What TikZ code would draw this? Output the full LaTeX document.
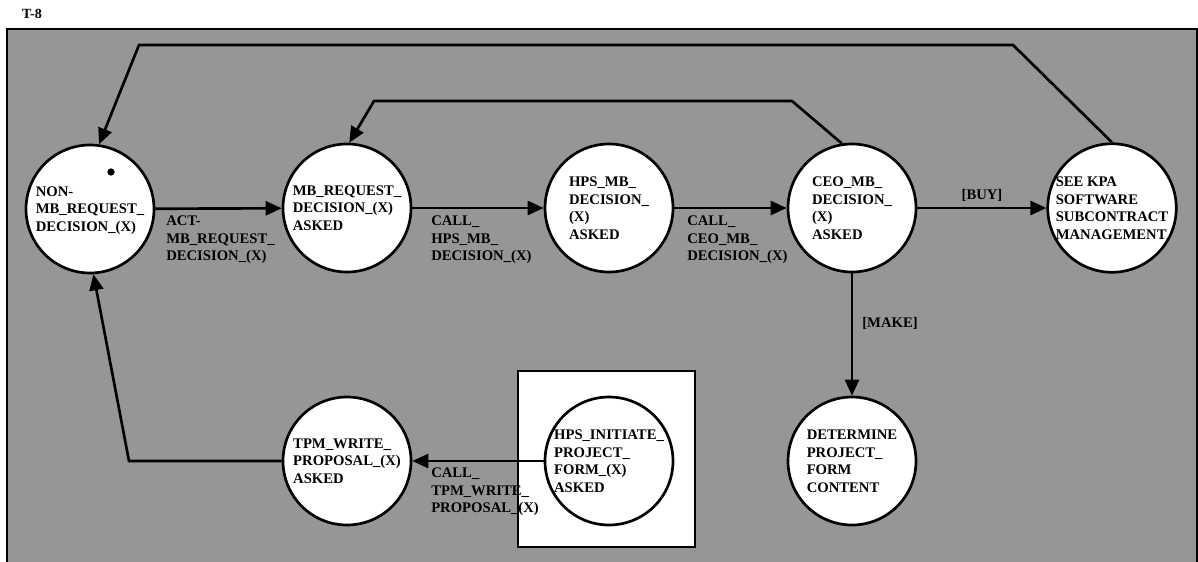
\documentclass[tikz,border=0pt]{standalone}
\usepackage{fontspec}
\setmainfont{Liberation Serif}
\usetikzlibrary{arrows.meta}
\definecolor{panelgray}{RGB}{150,150,150}
\tikzset{
  state/.style={circle, draw, fill=white, line width=2pt, minimum size=96pt, inner sep=0pt, align=left},
  sink/.style={text depth=#1},
  flow/.style={line width=2pt, -{Triangle[length=12pt,width=10.5pt]}},
  lbl/.style={align=left, inner sep=0pt},
  token/.style={circle, fill=black, minimum size=5.5pt, inner sep=0pt}
}
\begin{document}
\begin{tikzpicture}[x=0.75pt, y=-0.75pt, font=\fontsize{11}{13.1}\selectfont\bfseries]

        \useasboundingbox (0,0) rectangle (1198,561);

        \coordinate (k1) at (129,461);
        \coordinate (k2) at (1013,45);
        \coordinate (k3) at (139,45);
        \coordinate (k4) at (792,101);
        \coordinate (k5) at (374,101);

        \draw[line width=2pt, fill=panelgray] (7,575) -- (7,29) -- (1197,29) -- (1197,575);
        \draw[line width=2pt, fill=white] (518,371) rectangle (695,547);
        \node (title) at (32,14) {\fontsize{10.5}{12}\selectfont T-8};

        \node[state, sink=-1pt] (c1) at (90,209) {NON-\\MB\_REQUEST\_\\DECISION\_(X)};
        \node[state, sink=-9pt] (c2) at (347,208) {MB\_REQUEST\_\\DECISION\_(X)\\ASKED};
        \node[state, sink=-6pt] (c3) at (609,208) {HPS\_MB\_\\DECISION\_\\(X)\\ASKED};
        \node[state, sink=-6pt] (c4) at (852,208) {CEO\_MB\_\\DECISION\_\\(X)\\ASKED};
        \node[state, sink=-1.5pt] (c5) at (1112,208) {SEE KPA\\SOFTWARE\\SUBCONTRACT\\MANAGEMENT};
        \node[state, sink=-10.5pt] (c6) at (347,461) {TPM\_WRITE\_\\PROPOSAL\_(X)\\ASKED};
        \node[state, sink=-9pt] (c7) at (609,461) {HPS\_INITIATE\_\\PROJECT\_\\FORM\_(X)\\ASKED};
        \node[state, sink=-1.5pt] (c8) at (852,461) {DETERMINE\\PROJECT\_\\FORM\\CONTENT};
        \node[token] (tok) at (111,172) {};

        \node[lbl, anchor=north west] (a1) at (166,216) {ACT-\\MB\_REQUEST\_\\DECISION\_(X)};
        \node[lbl, anchor=north west] (a2) at (431,216) {CALL\_\\HPS\_MB\_\\DECISION\_(X)};
        \node[lbl, anchor=north west] (a3) at (687,216) {CALL\_\\CEO\_MB\_\\DECISION\_(X)};
        \node[lbl] (a4) at (982,195) {[BUY]};
        \node[lbl] (a5) at (890,323) {[MAKE]};
        \node[lbl, anchor=north west] (a6) at (431,468) {CALL\_\\TPM\_WRITE\_\\PROPOSAL\_(X)};

        \draw[flow] (c1) -- (c2);
        \draw[flow] (c2) -- (c3);
        \draw[flow] (c3) -- (c4);
        \draw[flow] (c4) -- (c5);
        \draw[flow] (c4) -- (c8);
        \draw[flow] (c7) -- (c6);
        \draw[flow] (c6) -- (k1) -- (c1.273);
        \draw[flow] (c5.north) -- (k2) -- (k3) -- (c1.82);
        \draw[flow] (c4.99) -- (k4) -- (k5) -- (c2.88);

\end{tikzpicture}
\end{document}
